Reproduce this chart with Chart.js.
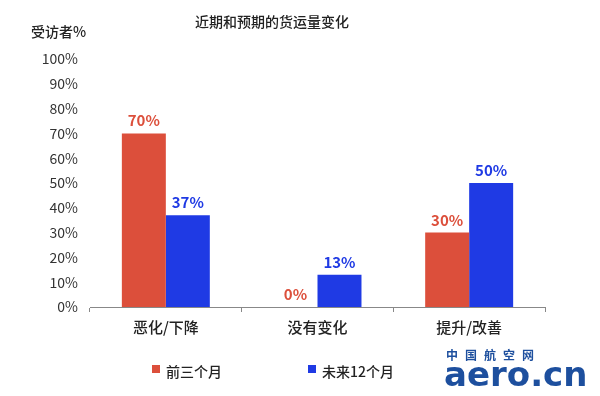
<!DOCTYPE html>
<html><head><meta charset="utf-8">
<script src="https://cdn.jsdelivr.net/npm/chart.js@4"></script>
<style>html,body{margin:0;padding:0;background:#fff}#wrap{width:600px;height:396px}</style>
</head><body><div id="wrap"><canvas id="c" width="600" height="396"></canvas></div>
<script>
const categories = ["恶化/下降", "没有变化", "提升/改善"];
const seriesNames = ["前三个月", "未来12个月"];
const prev3 = [70, 0, 30];
const next12 = [37, 13, 50];
const yTicks = [0,10,20,30,40,50,60,70,80,90,100];
const RED = "#DC4F3B", BLUE = "#1F3AE4";
const FONT = "'Noto Sans CJK SC', 'Noto Sans', sans-serif";

const extras = {
  id: "extras",
  afterDatasetsDraw(chart) {
    const ctx = chart.ctx;
    ctx.save();
    chart.data.datasets.forEach((ds, di) => {
      const meta = chart.getDatasetMeta(di);
      meta.data.forEach((bar, i) => {
        ctx.fillStyle = ds.backgroundColor;
        ctx.font = "bold 15px " + FONT;
        ctx.textAlign = "center";
        ctx.textBaseline = "alphabetic";
        ctx.fillText(ds.data[i] + "%", bar.x, bar.y - 7);
      });
    });
    ctx.restore();
  },
  afterDraw(chart) {
    const ctx = chart.ctx;
    ctx.save();
    ctx.fillStyle = "#222";
    ctx.textBaseline = "middle";
    ctx.textAlign = "center";
    ctx.font = "500 14px " + FONT;
    ctx.fillText("近期和预期的货运量变化", 272, 22);
    ctx.textAlign = "left";
    ctx.font = "500 14px " + FONT;
    ctx.fillText("受访者%", 31, 32);
    const items = [[152, RED, seriesNames[0]], [308, BLUE, seriesNames[1]]];
    items.forEach(([x, col, txt]) => {
      ctx.fillStyle = col;
      ctx.fillRect(x, 365, 8, 8);
      ctx.fillStyle = "#222";
      ctx.font = "500 14px " + FONT;
      ctx.fillText(txt, x + 14, 372);
    });
    ctx.fillStyle = "#1D4F9E";
    ctx.font = "bold 12px " + FONT;
    ctx.textAlign = "left";
    const wm = "中国航空网";
    for (let i = 0; i < wm.length; i++) ctx.fillText(wm[i], 446 + i * 19, 355);
    ctx.font = "bold 34px 'DejaVu Sans', sans-serif";
    ctx.fillText("aero.cn", 444, 377);
    ctx.restore();
  }
};

new Chart(document.getElementById("c"), {
  type: "bar",
  data: {
    labels: categories,
    datasets: [
      { label: seriesNames[0], data: prev3, backgroundColor: RED, categoryPercentage: 0.58, barPercentage: 1.0 },
      { label: seriesNames[1], data: next12, backgroundColor: BLUE, categoryPercentage: 0.58, barPercentage: 1.0 }
    ]
  },
  options: {
    responsive: false,
    animation: false,
    layout: { padding: { top: 59, right: 55, left: 0, bottom: 0 } },
    plugins: { legend: { display: false }, title: { display: false }, tooltip: { enabled: false } },
    scales: {
      x: {
        grid: { display: true, drawOnChartArea: false, drawTicks: true, tickLength: 5, color: "#888", offset: true },
        border: { display: true, color: "#888", width: 1 },
        ticks: { color: "#222", font: { family: FONT, size: 15, weight: "500" }, padding: 6 },
        afterFit(s) { s.height = 89; }
      },
      y: {
        min: 0, max: 100,
        grid: { display: false },
        border: { display: false },
        afterBuildTicks(s) { s.ticks = yTicks.map(v => ({ value: v })); },
        ticks: { color: "#333", font: { family: FONT, size: 14 }, padding: 4, callback: v => v + "%" },
        afterFit(s) { s.width = 90; }
      }
    }
  },
  plugins: [extras]
});
</script></body></html>
